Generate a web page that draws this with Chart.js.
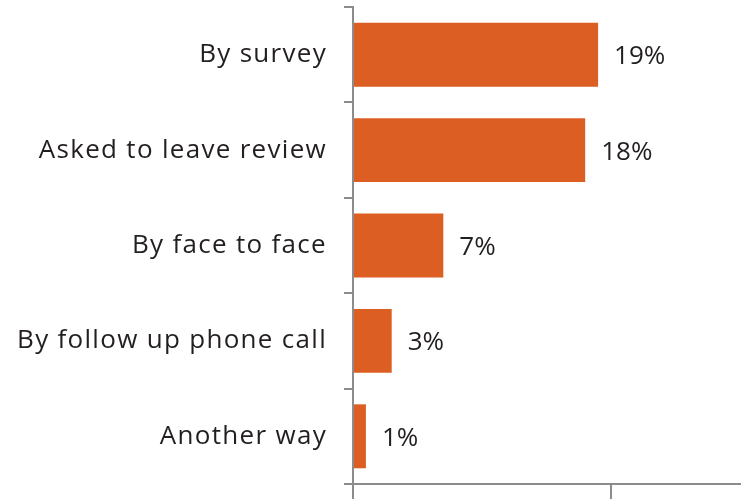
<!DOCTYPE html>
<html>
<head>
<meta charset="utf-8">
<script src="https://cdn.jsdelivr.net/npm/chart.js@4/dist/chart.umd.min.js"></script>
<style>
  html, body { margin: 0; padding: 0; background: #fff; }
  #wrap { width: 744px; height: 499px; }
</style>
</head>
<body>
<div id="wrap"><canvas id="barChart"></canvas></div>
<script>
var categories = ['By survey', 'Asked to leave review', 'By face to face', 'By follow up phone call', 'Another way'];
var shares = [19, 18, 7, 3, 1];
var xTicks = [0, 20];

var FONT = '"Open Sans", "Noto Sans", sans-serif';
var TEXT = '#231f20';
var AXIS = '#8c8c8c';

// wider tracking for the category names
var tracking = {
  id: 'tracking',
  beforeLayout: function(chart) { chart.ctx.letterSpacing = '1.3px'; },
  beforeDraw: function(chart) { chart.ctx.letterSpacing = '1.3px'; }
};

// writes "NN%" just past the end of every bar
var valueLabels = {
  id: 'valueLabels',
  afterDatasetsDraw: function(chart) {
    var ctx = chart.ctx;
    var meta = chart.getDatasetMeta(0);
    ctx.save();
    ctx.letterSpacing = '0px';
    ctx.font = '26px ' + FONT;
    ctx.fillStyle = TEXT;
    ctx.textAlign = 'left';
    ctx.textBaseline = 'middle';
    meta.data.forEach(function(bar, i) {
      ctx.fillText(shares[i] + '%', bar.x + 16, bar.y + 2);
    });
    ctx.restore();
  }
};

var ctx = document.getElementById('barChart').getContext('2d');
new Chart(ctx, {
  type: 'bar',
  data: {
    labels: categories,
    datasets: [{
      data: shares,
      backgroundColor: '#dc5e22',
      borderWidth: 0,
      barPercentage: 0.67,
      categoryPercentage: 1
    }]
  },
  options: {
    indexAxis: 'y',
    responsive: true,
    maintainAspectRatio: false,
    animation: false,
    layout: { padding: { top: 7, right: 4, left: 0, bottom: 0 } },
    scales: {
      x: {
        min: 0,
        max: 30,
        afterBuildTicks: function(axis) {
          axis.ticks = xTicks.map(function(v) { return { value: v }; });
        },
        afterFit: function(axis) {
          axis.height = 15;
          axis.paddingLeft = 0;
          axis.paddingRight = 0;
        },
        grid: {
          drawOnChartArea: false,
          drawTicks: true,
          tickLength: 15,
          color: AXIS,
          lineWidth: 2
        },
        border: { color: AXIS, width: 2 },
        ticks: { display: false }
      },
      y: {
        afterFit: function(axis) {
          axis.width = 353;
          axis.paddingTop = 0;
          axis.paddingBottom = 0;
        },
        grid: {
          drawOnChartArea: false,
          drawTicks: true,
          tickLength: 9,
          color: AXIS,
          lineWidth: 2
        },
        border: { color: AXIS, width: 2 },
        ticks: {
          color: TEXT,
          padding: 17,
          font: { family: FONT, size: 26 }
        }
      }
    },
    plugins: {
      legend: { display: false },
      tooltip: { enabled: false }
    }
  },
  plugins: [tracking, valueLabels]
});
</script>
</body>
</html>
